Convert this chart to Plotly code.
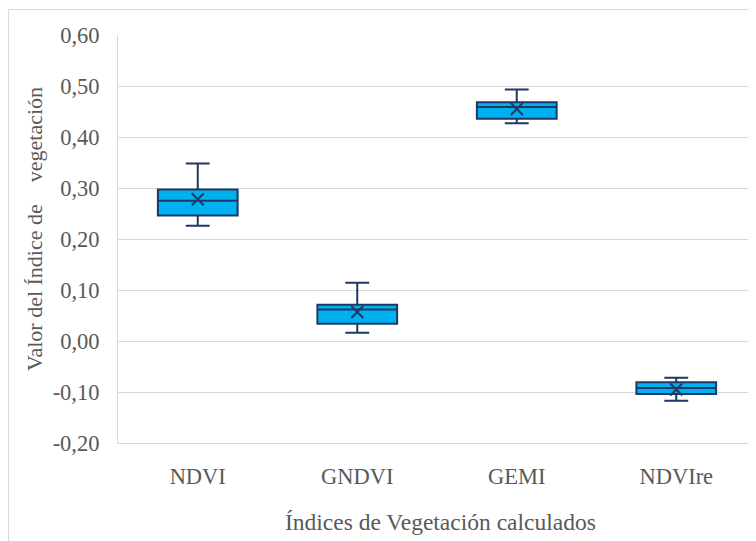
import plotly.graph_objects as go

categories = ["NDVI", "GNDVI", "GEMI", "NDVIre"]
lower_whisker = [0.226, 0.016, 0.427, -0.117]
q1_values = [0.246, 0.034, 0.436, -0.104]
median_values = [0.275, 0.062, 0.459, -0.092]
q3_values = [0.297, 0.071, 0.468, -0.081]
upper_whisker = [0.348, 0.114, 0.493, -0.072]
mean_values = [0.278, 0.057, 0.455, -0.095]

y_tickvals = [-0.2, -0.1, 0.0, 0.1, 0.2, 0.3, 0.4, 0.5, 0.6]
y_ticktext = ["-0,20", "-0,10", "0,00", "0,10", "0,20", "0,30", "0,40", "0,50", "0,60"]

# page body has an 8px margin, so figure coords = reference coords - 8
W, H = 748, 533
ML, MR, MT, MB = 110, 0, 27, 98
PW, PH = W - ML - MR, H - MT - MB

FONT = "Liberation Serif, Times New Roman, serif"
TXT = "#595959"
GRID = "#D9D9D9"
DARK = "#1F3864"
FILL = "#00B0F0"

fig = go.Figure()
fig.add_trace(go.Box(
    x=categories,
    q1=q1_values, median=median_values, q3=q3_values,
    lowerfence=lower_whisker, upperfence=upper_whisker,
    fillcolor=FILL, line=dict(color=DARK, width=2),
    width=0.5, whiskerwidth=0.3, boxpoints=False, showlegend=False,
))
fig.add_trace(go.Scatter(
    x=categories, y=mean_values, mode="markers",
    marker=dict(symbol="x-thin", size=12, line=dict(color=DARK, width=2)),
    showlegend=False,
))

# outer chart border
fig.add_shape(type="rect", xref="paper", yref="paper",
              x0=(0.5 - ML) / PW, x1=1.05, y0=-(MB + 20) / PH, y1=1 + (MT - 1.5) / PH,
              line=dict(color=GRID, width=1), fillcolor="rgba(0,0,0,0)", layer="below")

fig.add_annotation(text="Índices de Vegetación calculados", xref="paper", yref="paper",
                   x=(432 - ML) / PW, y=-(514 - MT - PH) / PH, showarrow=False,
                   font=dict(family=FONT, size=23.5, color=TXT), xanchor="center", yanchor="middle")
fig.add_annotation(text="Valor del Índice de\u00a0\u00a0\u00a0\u00a0vegetación",
                   xref="paper", yref="paper", x=(26 - ML) / PW, y=(MT + PH - 221) / PH,
                   textangle=-90, showarrow=False, font=dict(family=FONT, size=22, color=TXT),
                   xanchor="center", yanchor="middle")

fig.update_layout(
    width=W, height=H,
    margin=dict(l=ML, r=MR, t=MT, b=MB),
    paper_bgcolor="white", plot_bgcolor="white",
    font=dict(family=FONT, size=22, color=TXT),
    showlegend=False,
)
fig.update_xaxes(range=[-0.5, 3.5], showgrid=False, showline=True, linecolor=GRID, linewidth=1,
                 ticks="", ticklabelstandoff=13, tickfont=dict(family=FONT, size=22.5, color=TXT))
fig.update_yaxes(range=[-0.2, 0.6], tickvals=y_tickvals, ticktext=y_ticktext, showgrid=True,
                 gridcolor=GRID, gridwidth=1, zeroline=False, showline=True, linecolor=GRID,
                 linewidth=1, ticks="", ticklabelstandoff=13,
                 tickfont=dict(family=FONT, size=22.5, color=TXT))

fig.write_html("out.html")
